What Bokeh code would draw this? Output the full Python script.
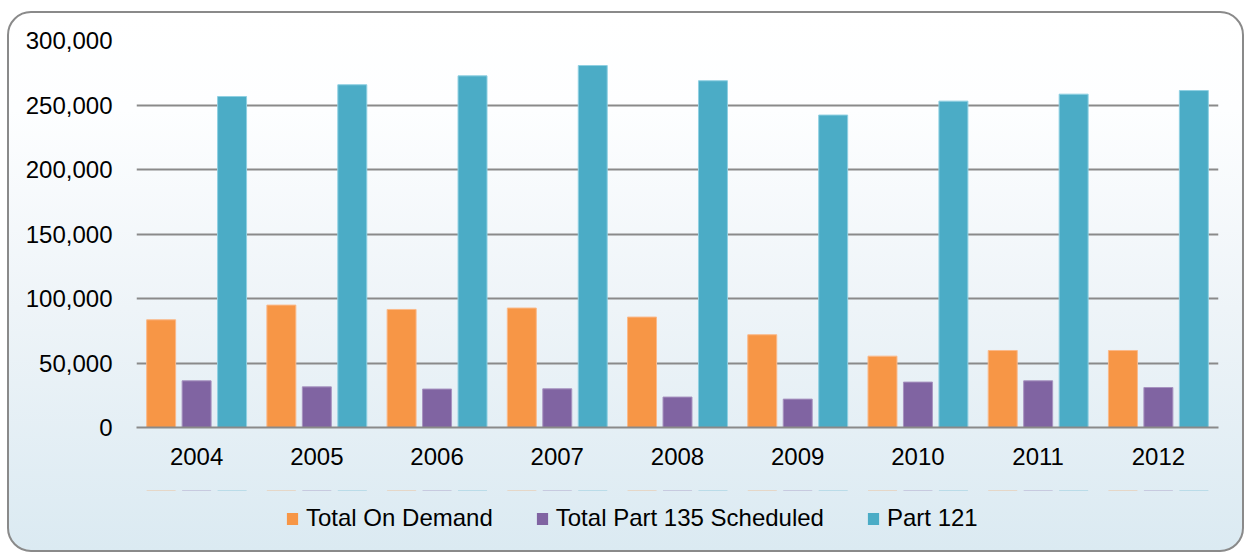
from bokeh.plotting import figure
from bokeh.layouts import column
from bokeh.models import (FactorRange, Range1d, FixedTicker, NumeralTickFormatter,
                          Legend, LegendItem)
from bokeh.transform import dodge
from bokeh.embed import file_html
from bokeh.resources import INLINE

years = ["2004", "2005", "2006", "2007", "2008", "2009", "2010", "2011", "2012"]
on_demand = [83500, 94900, 91500, 92600, 85600, 71900, 55300, 59700, 59700]
part135 = [36200, 31500, 29800, 30000, 23600, 22000, 35200, 36200, 31000]
part121 = [256600, 265700, 272600, 280600, 268800, 242200, 253000, 258400, 261200]
series_names = ["Total On Demand", "Total Part 135 Scheduled", "Part 121"]
y_ticks = [0, 50000, 100000, 150000, 200000, 250000, 300000]

colors = ["#F79646", "#8064A2", "#4BACC6"]
edge = ["#FAB98A", "#A793C0", "#8FD0E2"]
FONT = "Liberation Sans"

src = dict(year=years, a=on_demand, b=part135, c=part121)
keys = ["a", "b", "c"]
offsets = [-0.295, 0.0, 0.295]

# main chart
x_range = FactorRange(*years, range_padding=0)
p = figure(width=1233, height=477, output_backend="svg", toolbar_location=None,
           x_range=x_range, y_range=Range1d(0, 300000))
p.min_border_left = 127
p.min_border_right = 24
p.min_border_top = 27
p.min_border_bottom = 63
p.border_fill_color = None
p.background_fill_color = None
p.outline_line_color = None

for key, off, col, ec in zip(keys, offsets, colors, edge):
    p.vbar(x=dodge("year", off, range=x_range), top=key, width=0.241,
           source=src, fill_color=col, line_color=ec, line_width=1)

p.ygrid.ticker = FixedTicker(ticks=y_ticks)
p.ygrid.grid_line_color = "#8a8a8a"
p.ygrid.grid_line_width = 2
p.xgrid.grid_line_color = None

p.yaxis.ticker = FixedTicker(ticks=y_ticks)
p.yaxis.formatter = NumeralTickFormatter(format="0,0")
p.yaxis.axis_line_color = None
p.yaxis.major_tick_line_color = None
p.yaxis.minor_tick_line_color = None
p.yaxis.major_tick_out = 0
p.yaxis.major_tick_in = 0
p.yaxis.major_label_standoff = 24
p.yaxis.major_label_text_font = FONT
p.yaxis.major_label_text_font_size = "24px"
p.yaxis.major_label_text_color = "#000000"

p.xaxis.axis_line_color = "#8a8a8a"
p.xaxis.axis_line_width = 2
p.xaxis.major_tick_line_color = None
p.xaxis.minor_tick_line_color = None
p.xaxis.major_tick_out = 0
p.xaxis.major_tick_in = 0
p.xaxis.major_label_standoff = 20
p.xaxis.major_label_text_font = FONT
p.xaxis.major_label_text_font_size = "24px"
p.xaxis.major_label_text_color = "#000000"

# legend strip (zero-height proxies of the same series, used only as legend glyphs)
lg = figure(width=1233, height=60, output_backend="svg", toolbar_location=None,
            x_axis_type=None, y_axis_type=None, x_range=x_range, y_range=Range1d(-2, -1))
lg.min_border = 0
lg.min_border_left = 0
lg.min_border_right = 0
lg.min_border_top = 0
lg.min_border_bottom = 0
lg.border_fill_color = None
lg.background_fill_color = None
lg.outline_line_color = None
lg.grid.visible = False

proxies = []
for key, off, col in zip(keys, offsets, colors):
    proxies.append(lg.vbar(x=dodge("year", off, range=x_range), top=key, bottom=key,
                           width=0.241, source=src, fill_color=col, line_color=None))

legend = Legend(items=[LegendItem(label=n, renderers=[r]) for n, r in zip(series_names, proxies)],
                orientation="horizontal", location=(149, 18),
                glyph_width=14, glyph_height=15, label_standoff=7, spacing=42,
                padding=0, margin=0, border_line_color=None, background_fill_alpha=0,
                label_text_font=FONT, label_text_font_size="24px", label_text_color="#000000",
                label_height=24)
lg.add_layout(legend, "center")

layout = column(p, lg, spacing=0)
layout.styles = {
    "transform": "translate(7px, 11px)",
    "border": "2px solid #8a8a8a",
    "border-radius": "24px",
    "background": "linear-gradient(to bottom, #ffffff 0%, #fdfeff 18%, #eef4f8 55%, #dbeaf2 100%)",
}

open("out.html", "w").write(file_html(layout, INLINE))
